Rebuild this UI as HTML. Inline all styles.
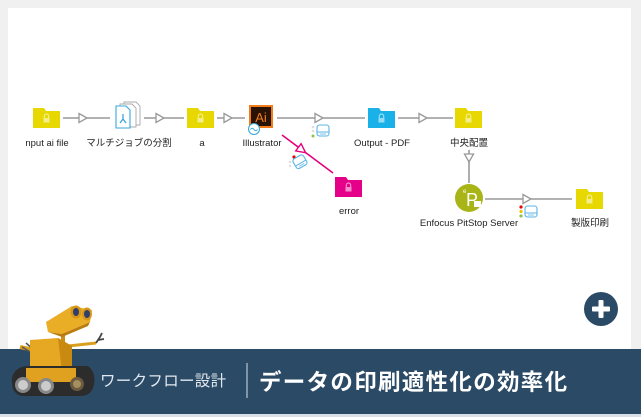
<!DOCTYPE html>
<html><head><meta charset="utf-8">
<style>
html,body{margin:0;padding:0;}
body{width:641px;height:417px;overflow:hidden;background:#f0f0f0;position:relative;font-family:"Liberation Sans","Noto Sans CJK JP",sans-serif;}
#canvas{position:absolute;left:8px;top:8px;width:623px;height:342px;background:#fff;}
svg{position:absolute;left:0;top:0;}
.lbl{font-family:"Liberation Sans","Noto Sans CJK JP",sans-serif;font-size:9.5px;fill:#222;}
#band{position:absolute;left:0;top:349px;width:641px;height:65px;background:#2b4a66;}
#strip{position:absolute;left:0;top:414px;width:641px;height:3px;background:#d9dfe4;}
#sub{position:absolute;left:100px;top:371px;font-size:15.5px;color:#e2e8ee;letter-spacing:0.3px;font-family:"Liberation Sans","Noto Sans CJK JP",sans-serif;white-space:nowrap;line-height:22px;}
#div{position:absolute;left:246px;top:363px;width:2px;height:35px;background:#7f94a7;}
#title{position:absolute;left:259px;top:368px;font-size:22.5px;font-weight:bold;color:#fff;font-family:"Liberation Sans","Noto Sans CJK JP",sans-serif;white-space:nowrap;line-height:30px;letter-spacing:1.3px;}
</style></head>
<body>
<div id="canvas"></div>
<div id="band"></div>
<div id="strip"></div>
<div id="sub">ワークフロー設計</div>
<div id="div"></div>
<div id="title">データの印刷適性化の効率化</div>

<svg width="641" height="417" viewBox="0 0 641 417" xmlns="http://www.w3.org/2000/svg">
<defs>
  <g id="lock">
    <path d="M-2.2,0 v-1.8 a2.2,2.2 0 0 1 4.4,0 v1.8" fill="none" stroke="#fff" stroke-opacity="0.55" stroke-width="1.2"/>
    <rect x="-3" y="0" width="6" height="4.5" fill="#fff" fill-opacity="0.55"/>
  </g>
  <g id="arrowR">
    <path d="M-4,-4.5 L4,0 L-4,4.5 Z" fill="#fff" stroke="#999" stroke-width="1.3"/>
  </g>
  <g id="drive">
    <rect x="0" y="0" width="12" height="11" rx="2.5" fill="#fff" stroke="#5ab4e6" stroke-width="1.1"/>
    <line x1="0.5" y1="7" x2="11.5" y2="7" stroke="#5ab4e6" stroke-width="1"/>
    <line x1="3" y1="9" x2="9" y2="9" stroke="#5ab4e6" stroke-width="0.8"/>
  </g>
</defs>

<!-- connectors main row -->
<g stroke="#999" stroke-width="1.6" fill="none">
  <line x1="63" y1="118" x2="110" y2="118"/>
  <line x1="144" y1="118" x2="184" y2="118"/>
  <line x1="217" y1="118" x2="245" y2="118"/>
  <line x1="277" y1="118" x2="365" y2="118"/>
  <line x1="398" y1="118" x2="453" y2="118"/>
  <line x1="469" y1="150" x2="469" y2="183"/>
  <line x1="485" y1="199" x2="572" y2="199"/>
</g>
<use href="#arrowR" x="83" y="118"/>
<use href="#arrowR" x="160" y="118"/>
<use href="#arrowR" x="228" y="118"/>
<use href="#arrowR" x="319" y="118"/>
<use href="#arrowR" x="423" y="118"/>
<use href="#arrowR" x="527" y="199"/>
<g transform="translate(469,158) rotate(90)"><path d="M-4,-4.5 L4,0 L-4,4.5 Z" fill="#fff" stroke="#999" stroke-width="1.3"/></g>

<!-- pink error connector -->
<line x1="282" y1="135" x2="333" y2="173" stroke="#e6007e" stroke-width="1.6"/>
<g transform="translate(302,150) rotate(37)"><path d="M-4.5,-4.5 L4.5,0 L-4.5,4.5 Z" fill="#fff" stroke="#e6007e" stroke-width="1.4"/></g>

<!-- status icon on Illustrator->Output -->
<circle cx="313" cy="127" r="1.3" fill="#ddd"/>
<circle cx="313" cy="131" r="1.3" fill="#ddd"/>
<circle cx="313" cy="136" r="1.5" fill="#8bc34a"/>
<use href="#drive" x="317" y="125"/>

<!-- status icon on error path -->
<circle cx="294" cy="157" r="1.6" fill="#e00"/>
<circle cx="290" cy="162" r="1.2" fill="#ddd"/>
<circle cx="290" cy="166" r="1.2" fill="#ddd"/>
<g transform="translate(292,160) rotate(-30)"><use href="#drive" x="0" y="0"/></g>

<!-- status icon on PitStop -> 製版印刷 -->
<circle cx="521" cy="207" r="1.6" fill="#e00"/>
<circle cx="521" cy="211.5" r="1.6" fill="#f0c000"/>
<circle cx="521" cy="216" r="1.6" fill="#8bc34a"/>
<use href="#drive" x="525" y="206"/>

<!-- folders -->
<g>
  <path d="M33,108 h11 l2,3 h14 v17 h-27 z" fill="#e6d800"/>
  <use href="#lock" x="46.5" y="118"/>
  <path d="M187,108 h11 l2,3 h14 v17 h-27 z" fill="#e6d800"/>
  <use href="#lock" x="200.5" y="118"/>
  <path d="M368,108 h11 l2,3 h14 v17 h-27 z" fill="#1ab1e8"/>
  <use href="#lock" x="381.5" y="118"/>
  <path d="M455,108 h11 l2,3 h14 v17 h-27 z" fill="#e6d800"/>
  <use href="#lock" x="468.5" y="118"/>
  <path d="M335,177 h11 l2,3 h14 v17 h-27 z" fill="#e5008a"/>
  <use href="#lock" x="348.5" y="187"/>
  <path d="M576,189 h11 l2,3 h14 v17 h-27 z" fill="#e6d800"/>
  <use href="#lock" x="589.5" y="199"/>
</g>

<!-- multi job icon -->
<g>
  <path d="M124,102 h12 l4,4 v19 h-16 z" fill="#fff" stroke="#aaa" stroke-width="0.9"/>
  <path d="M120,104 h12 l4,4 v19 h-16 z" fill="#fff" stroke="#aaa" stroke-width="0.9"/>
  <path d="M116,106 h10 l4,4 v18 h-14 z" fill="#fff" stroke="#3aa8e0" stroke-width="1.1"/>
  <path d="M123,114 v5 M123,119 l-3,4 M123,119 l3,4" stroke="#3aa8e0" stroke-width="1.3" fill="none"/>
</g>

<!-- Ai icon -->
<g>
  <rect x="249" y="105" width="24" height="23" fill="#f07d1a"/>
  <rect x="251" y="107" width="20" height="19" fill="#2a1205"/>
  <text x="261" y="122" text-anchor="middle" font-family="Liberation Sans, sans-serif" font-size="13" fill="#f07d1a">Ai</text>
  <circle cx="254" cy="129" r="5.5" fill="#fff" stroke="#3aa8e0" stroke-width="1.1"/>
  <path d="M250.5,129.5 q1.7,-2.5 3.5,0 t3.5,0" fill="none" stroke="#3aa8e0" stroke-width="1"/>
</g>

<!-- PitStop -->
<g>
  <circle cx="469" cy="198" r="14" fill="#a9b516"/>
  <text x="463" y="193" font-family="Liberation Sans, sans-serif" font-size="6" fill="#fff">e</text>
  <text x="466" y="206" font-family="Liberation Sans, sans-serif" font-size="18" fill="#fff">P</text>
  <rect x="474" y="201" width="7" height="6" fill="#fff"/>
</g>

<!-- labels -->
<g class="lbl">
  <text x="47" y="146" text-anchor="middle" class="lbl">nput ai file</text>
  <text x="129" y="146" text-anchor="middle" class="lbl">マルチジョブの分割</text>
  <text x="202" y="146" text-anchor="middle" class="lbl">a</text>
  <text x="262" y="146" text-anchor="middle" class="lbl">Illustrator</text>
  <text x="382" y="146" text-anchor="middle" class="lbl">Output - PDF</text>
  <text x="469" y="146" text-anchor="middle" class="lbl">中央配置</text>
  <text x="349" y="214" text-anchor="middle" class="lbl">error</text>
  <text x="469" y="226" text-anchor="middle" class="lbl">Enfocus PitStop Server</text>
  <text x="590" y="226" text-anchor="middle" class="lbl">製版印刷</text>
</g>

<!-- plus button -->
<circle cx="601" cy="309" r="17" fill="#2b4a66"/>
<rect x="592" y="306.5" width="18" height="5" rx="1" fill="#fff"/>
<rect x="598.5" y="300" width="5" height="18" rx="1" fill="#fff"/>

<!-- robot -->
<g>
  <!-- right arm -->
  <path d="M68,346 L96,343" stroke="#d9a020" stroke-width="3"/>
  <path d="M96,343 l4,-6 M98,340 l6,-1 M100,337 l2,-4" stroke="#444" stroke-width="1.8"/>
  <!-- left arm -->
  <path d="M34,350 L20,347" stroke="#d9a020" stroke-width="4"/>
  <path d="M22,347 l10,6 M26,343 l8,7" stroke="#555" stroke-width="1.5"/>
  <!-- neck -->
  <rect x="61" y="330" width="4" height="16" fill="#c98d15"/>
  <!-- head binoculars -->
  <path d="M46,322 L72,306 L92,310 L90,322 L62,334 L48,332 Z" fill="#e9ae25"/>
  <path d="M48,332 L62,334 L90,322 L88,326 L62,337 Z" fill="#b97c0e"/>
  <ellipse cx="76" cy="312" rx="5.5" ry="6.5" fill="#d6961a"/>
  <ellipse cx="87" cy="314" rx="5" ry="6.5" fill="#d6961a"/>
  <ellipse cx="76" cy="312" rx="3" ry="4" fill="#2f3f6a"/>
  <ellipse cx="87" cy="314" rx="3" ry="4" fill="#2f3f6a"/>
  <!-- body -->
  <path d="M30,340 L58,338 L72,346 L72,372 L30,374 Z" fill="#e6a823"/>
  <path d="M58,338 L72,346 L72,372 L62,372 Z" fill="#c98a12"/>
  <!-- treads -->
  <path d="M12,378 Q14,367 28,366 L88,366 Q96,372 94,384 Q92,396 80,396 L22,396 Q11,394 12,378 Z" fill="#2c2c2c"/>
  <rect x="26" y="368" width="50" height="14" fill="#e0a020"/>
  <circle cx="23" cy="385" r="8" fill="#888"/>
  <circle cx="23" cy="385" r="5" fill="#ccc"/>
  <circle cx="46" cy="386" r="8" fill="#888"/>
  <circle cx="46" cy="386" r="5" fill="#ccc"/>
  <circle cx="77" cy="384" r="7" fill="#6b5a40"/>
  <circle cx="77" cy="384" r="4" fill="#a58f60"/>
</g>
</svg>
</body></html>
